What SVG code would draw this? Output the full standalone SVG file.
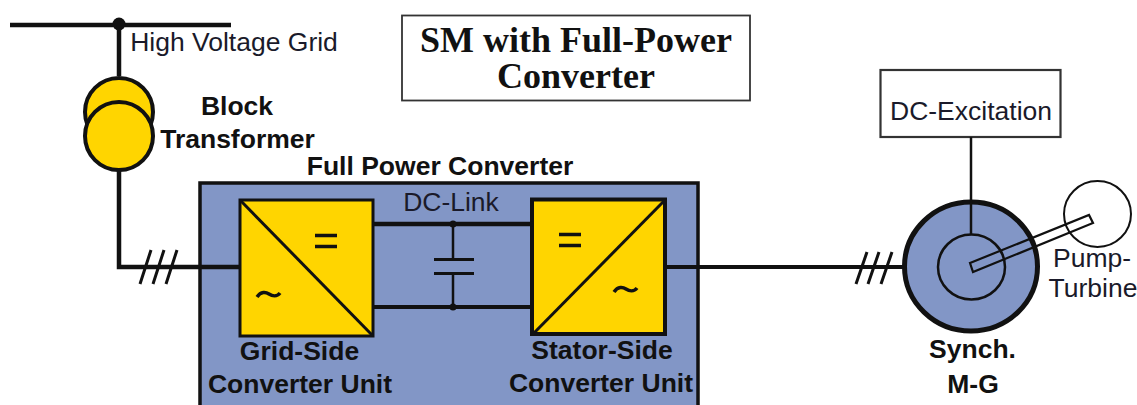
<svg xmlns="http://www.w3.org/2000/svg" width="1137" height="405" viewBox="0 0 1137 405">
<style>
text{font-family:"Liberation Sans",Arial,sans-serif;fill:#111;text-anchor:middle}
.b{font-weight:bold;font-size:26.5px}
.r{font-size:26.500px;fill:#1a1a2a}
.t{font-family:"Liberation Serif","Times New Roman",serif;font-weight:bold;font-size:36px}
.y{fill:#ffd500;stroke:#111;stroke-width:4}
.k{fill:none;stroke:#111}
</style>
<rect width="1137" height="405" fill="#fff"/>
<g id="title"><rect x="402" y="15.500" width="348" height="85" fill="#fff" stroke="#333" stroke-width="1.800"/>
<text class="t" x="576" y="52">SM with Full-Power</text><text class="t" x="576" y="88">Converter</text></g>
<g id="grid-label"><text class="r" x="234" y="51">High Voltage Grid</text></g>
<g id="block-transformer">
<circle class="y" cx="119" cy="112" r="34"/>
<circle class="y" cx="119" cy="136" r="34"/>
<text class="b" x="237" y="115">Block</text><text class="b" x="237.500" y="148">Transformer</text>
</g>
<g id="full-power-converter">
<rect x="200" y="183" width="498" height="240" fill="#8296c6" stroke="#111" stroke-width="3.500"/>
<text class="b" x="440" y="175">Full Power Converter</text>
<text class="r" x="451" y="211">DC-Link</text>
</g>
<g id="grid-side-unit">
<rect x="240" y="200" width="133" height="136" class="y" style="stroke-width:3"/>
<path class="k" stroke-width="3" d="M240 200L373 336"/>
<path class="k" stroke-width="3.500" d="M315 235.500H337M315 246.500H337"/>
<path class="k" stroke-width="3.500" d="M257 297c4-6 9-5 12-3s8 3 11-1"/>
<text class="b" x="299.500" y="360">Grid-Side</text><text class="b" x="300" y="393">Converter Unit</text>
</g>
<g id="stator-side-unit">
<rect x="532" y="199.500" width="133" height="134.500" class="y"/>
<path class="k" stroke-width="3" d="M533 334L665 200"/>
<path class="k" stroke-width="3.500" d="M559 234.500H581M559 245.500H581"/>
<path class="k" stroke-width="3.500" d="M614 292c4-6 9-5 12-3s8 3 11-1"/>
<text class="b" x="602" y="359">Stator-Side</text><text class="b" x="601" y="392">Converter Unit</text>
</g>
<g id="dc-excitation"><rect x="880.500" y="70" width="180" height="67" fill="#fff" stroke="#333" stroke-width="2.200"/>
<text class="r" x="971" y="120">DC-Excitation</text></g>
<g id="synch-mg">
<ellipse cx="971" cy="266.500" rx="66.500" ry="64.500" fill="#8296c6" stroke="#111" stroke-width="5"/>
<ellipse cx="971.500" cy="267" rx="33.500" ry="32.500" fill="none" stroke="#111" stroke-width="2.500"/>
<text class="b" x="972.500" y="358">Synch.</text><text class="b" x="973" y="393">M-G</text>
</g>
<g id="pump-turbine">
<ellipse cx="1097.500" cy="214" rx="33.500" ry="33" fill="#fff" stroke="#111" stroke-width="2"/>
<path fill="none" stroke="#111" stroke-width="2.200" d="M970 263L1089 215L1093 223L973 272Z"/>
<text class="r" x="1092" y="267">Pump-</text><text class="r" x="1093" y="297">Turbine</text>
</g>
<g id="connectors">
<path class="k" stroke-width="4.500" d="M10 25H231"/>
<circle cx="119" cy="24" r="6.500" fill="#111"/>
<path class="k" stroke-width="4.500" d="M119 25V76"/>
<path class="k" stroke-width="4.500" d="M119 170V267H240"/>
<path class="k" stroke-width="4.500" d="M372 224H533"/>
<path class="k" stroke-width="4" d="M372 307H533"/>
<path class="k" stroke-width="2.500" d="M453 224V259M453 273V307"/>
<path class="k" stroke-width="3" d="M434 259.500H474M434 273.500H474"/>
<circle cx="453" cy="224" r="3.500" fill="#111"/><circle cx="453" cy="307" r="3.500" fill="#111"/>
<path class="k" stroke-width="4" d="M665 267H905"/>
<path class="k" stroke-width="3" d="M140 284L151 250M153 284L164 250M166 284L177 250"/>
<path class="k" stroke-width="3" d="M856 284L867 252M868 284L879 252M881 284L892 252"/>
<path class="k" stroke-width="2.500" d="M971 137V234"/>
</g>
</svg>
